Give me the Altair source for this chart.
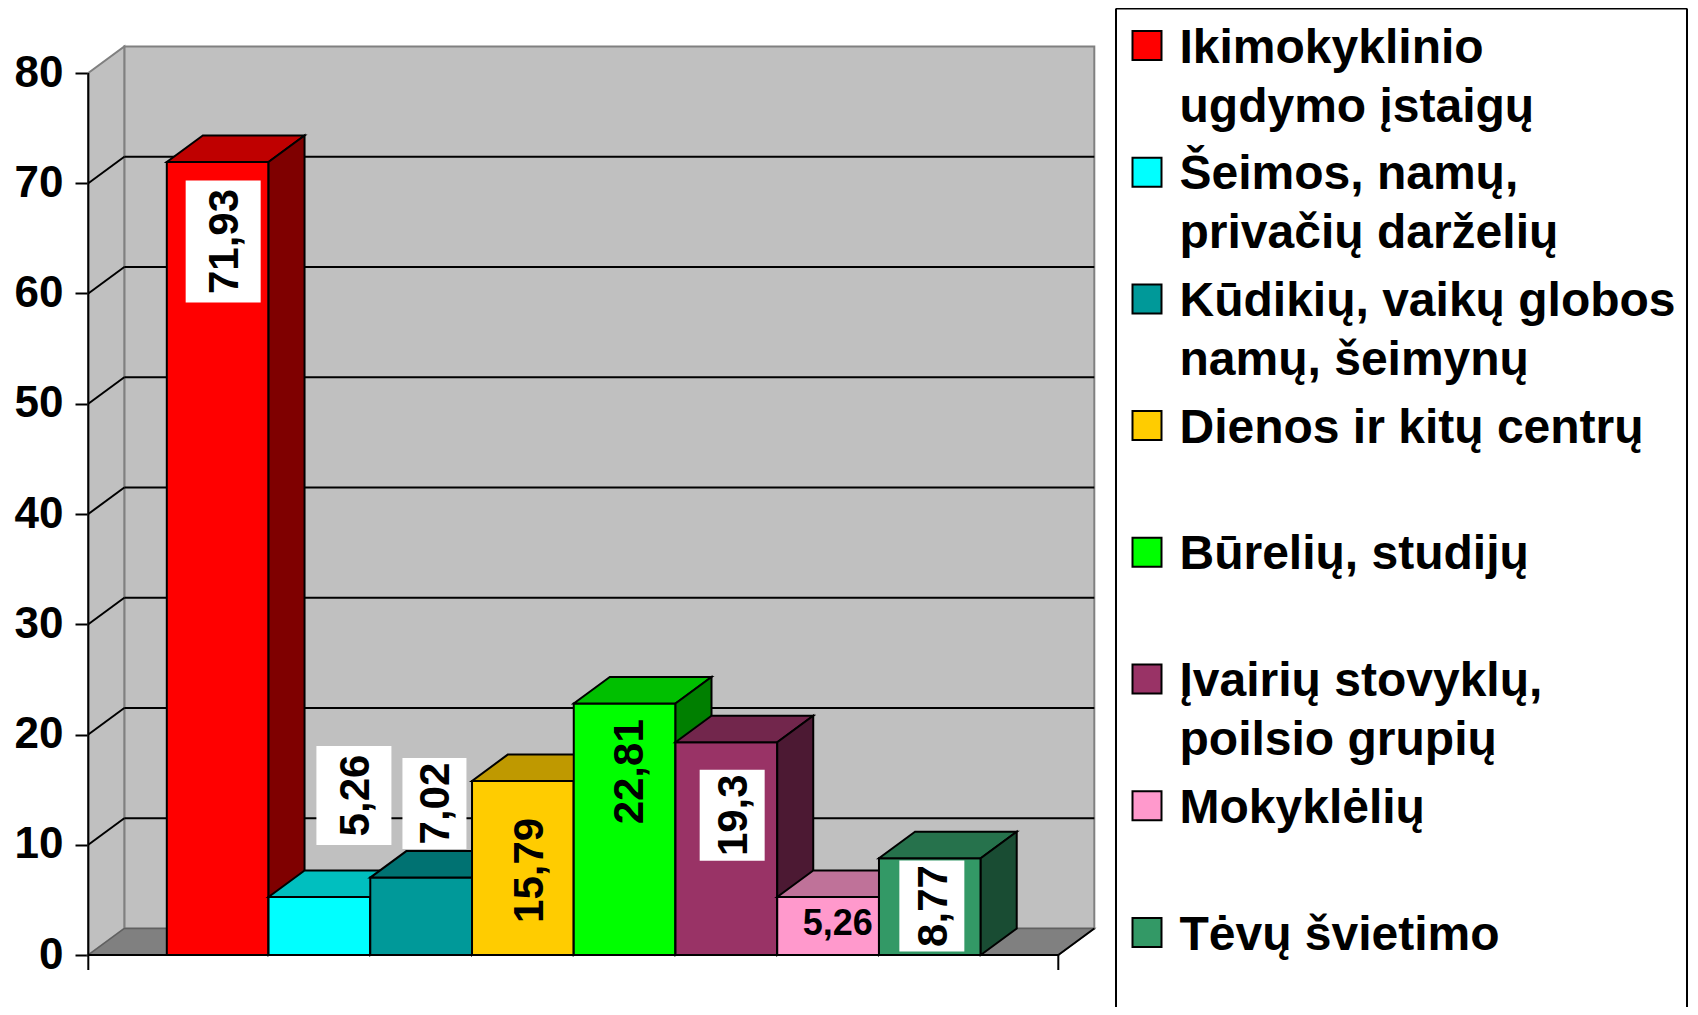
import altair as alt
import pandas as pd

# ---------------- data ----------------
categories = [
    "Ikimokyklinio ugdymo įstaigų",
    "Šeimos, namų, privačių darželių",
    "Kūdikių, vaikų globos namų, šeimynų",
    "Dienos ir kitų centrų",
    "Būrelių, studijų",
    "Įvairių stovyklų, poilsio grupių",
    "Mokyklėlių",
    "Tėvų švietimo",
]
legend_lines = [
    ["Ikimokyklinio", "ugdymo įstaigų"],
    ["Šeimos, namų,", "privačių darželių"],
    ["Kūdikių, vaikų globos", "namų, šeimynų"],
    ["Dienos ir kitų centrų"],
    ["Būrelių, studijų"],
    ["Įvairių stovyklų,", "poilsio grupių"],
    ["Mokyklėlių"],
    ["Tėvų švietimo"],
]
values = [71.93, 5.26, 7.02, 15.79, 22.81, 19.3, 5.26, 8.77]
value_labels = ["71,93", "5,26", "7,02", "15,79", "22,81", "19,3", "5,26", "8,77"]
y_ticks = [0, 10, 20, 30, 40, 50, 60, 70, 80]

# ---------------- styles ----------------
FONT = "Liberation Sans"
front_colors = ["#FF0000", "#00FFFF", "#009999", "#FFCC00",
                "#00FF00", "#993366", "#FF99CC", "#339966"]


def shade(hx, f):
    hx = hx.lstrip("#")
    r, g, b = (int(hx[k:k + 2], 16) for k in (0, 2, 4))
    return "#%02X%02X%02X" % (int(r * f), int(g * f), int(b * f))


top_colors = [shade(c, 0.75) for c in front_colors]
side_colors = [shade(c, 0.5) for c in front_colors]

# label placement (pixel offsets from front-top-centre of each bar), box size in px
label_style = [
    {"dx": 5.5, "dy": 79.5, "box": (75, 122), "rot": True, "size": 42},
    {"dx": 34.5, "dy": -101.5, "box": (75, 99), "rot": True, "size": 42},
    {"dx": 13.3, "dy": -74.0, "box": (64, 91), "rot": True, "size": 42},
    {"dx": 5.2, "dy": 89.5, "box": None, "rot": True, "size": 42},
    {"dx": 3.3, "dy": 68.3, "box": None, "rot": True, "size": 42},
    {"dx": 5.8, "dy": 73.0, "box": (65, 91), "rot": True, "size": 42},
    {"dx": 9.7, "dy": 25.5, "box": None, "rot": False, "size": 36},
    {"dx": 2.0, "dy": 47.7, "box": (65, 91), "rot": True, "size": 42},
]

# ---------------- layout (pixels on the page) ----------------
PX0 = 166.8        # page x of first bar's front-left edge
BAR_PX = 101.74    # bar width in px
ZERO_PY = 955.0    # page y of value 0
UNIT_PY = 11.025   # px per value unit
DEPTH_X, DEPTH_Y = 36.0, 26.5
PLOT_LEFT, PLOT_TOP, W, H = 88, 8, 1602, 999


def sx(px):
    return (px - PX0) / BAR_PX


def vy(py):
    return (ZERO_PY - py) / UNIT_PY


DX = DEPTH_X / BAR_PX
DY = DEPTH_Y / UNIT_PY
XL = sx(88.3)
XR = sx(1058.3)
XS = alt.Scale(domain=[sx(PLOT_LEFT), sx(PLOT_LEFT + W)], nice=False, zero=False)
YS = alt.Scale(domain=[vy(PLOT_TOP + H), vy(PLOT_TOP)], nice=False, zero=False)
YAX = alt.Axis(values=y_ticks, format="d", domain=False, grid=False, ticks=True,
               tickSize=13, tickWidth=2, tickColor="black", labelFont=FONT,
               labelFontSize=44, labelFontWeight="bold", labelColor="black",
               labelPadding=12, title=None, labelOverlap=False)


def enc(ch, x="x", y="y", x2=None, y2=None, **extra):
    e = dict(x=alt.X(f"{x}:Q", scale=XS, axis=None),
             y=alt.Y(f"{y}:Q", scale=YS, axis=YAX))
    if x2:
        e["x2"] = alt.X2(f"{x2}:Q")
    if y2:
        e["y2"] = alt.Y2(f"{y2}:Q")
    e.update(extra)
    return ch.encode(**e)


def rule(x, y, x2, y2, color="black", width=2):
    df = pd.DataFrame({"x": [x], "y": [y], "x2": [x2], "y2": [y2]})
    return enc(alt.Chart(df).mark_rule(color=color, strokeWidth=width), x2="x2", y2="y2")


layers = []

# back wall
bw = pd.DataFrame({"x": [XL + DX], "x2": [XR + DX], "y": [DY], "y2": [80 + DY]})
layers.append(enc(alt.Chart(bw).mark_rect(fill="#C0C0C0", stroke="#808080", strokeWidth=2),
                  x2="x2", y2="y2"))
# left wall
lw = pd.DataFrame({"x": [XL, XL + DX], "y": [0, DY], "y2": [80, 80 + DY]})
layers.append(enc(alt.Chart(lw).mark_area(orient="vertical", fill="#C0C0C0", opacity=1,
                                          stroke="#808080", strokeWidth=2), y2="y2"))
# floor
fl = pd.DataFrame({"y": [0, DY], "x": [XL, XL + DX], "x2": [XR, XR + DX]})
layers.append(enc(alt.Chart(fl).mark_area(orient="horizontal", fill="#808080", opacity=1,
                                          stroke="#606060", strokeWidth=1.5), x2="x2"))

# gridlines
for v in y_ticks[1:-1]:
    layers.append(rule(XL + DX, v + DY, XR + DX, v + DY))
    layers.append(rule(XL, v, XL + DX, v + DY))

# floor right edge, axes
layers.append(rule(XR, 0, XR + DX, DY))
layers.append(rule(XL, 0, XL, 80))
layers.append(rule(XL, 0, XR, 0))
layers.append(rule(XL, 0, XL, vy(970)))
layers.append(rule(XR, 0, XR, vy(970)))

# bars (drawn left to right: front, top, side)
for i, v in enumerate(values):
    fr = pd.DataFrame({"x": [i], "x2": [i + 1], "y": [0], "y2": [v]})
    layers.append(enc(alt.Chart(fr).mark_rect(fill=front_colors[i], stroke="black",
                                              strokeWidth=2), x2="x2", y2="y2"))
    tp = pd.DataFrame({"y": [v, v + DY], "x": [i, i + DX], "x2": [i + 1, i + 1 + DX]})
    layers.append(enc(alt.Chart(tp).mark_area(orient="horizontal", fill=top_colors[i],
                                              opacity=1, stroke="black", strokeWidth=2,
                                              strokeJoin="miter"), x2="x2"))
    sd = pd.DataFrame({"x": [i + 1, i + 1 + DX], "y": [0, DY], "y2": [v, v + DY]})
    layers.append(enc(alt.Chart(sd).mark_area(orient="vertical", fill=side_colors[i],
                                              opacity=1, stroke="black", strokeWidth=2,
                                              strokeJoin="miter"), y2="y2"))

# value labels
for i, (v, lab) in enumerate(zip(values, value_labels)):
    st = label_style[i]
    cx = i + 0.5 + st["dx"] / BAR_PX
    cy = v - st["dy"] / UNIT_PY
    if st["box"]:
        bwid, bhei = st["box"]
        bx = pd.DataFrame({"x": [cx - bwid / 2 / BAR_PX], "x2": [cx + bwid / 2 / BAR_PX],
                           "y": [cy - bhei / 2 / UNIT_PY], "y2": [cy + bhei / 2 / UNIT_PY]})
        layers.append(enc(alt.Chart(bx).mark_rect(fill="white"), x2="x2", y2="y2"))
    fs = st["size"]
    if st["rot"]:
        tx = pd.DataFrame({"x": [cx + 0.358 * fs / BAR_PX], "y": [cy], "t": [lab]})
        m = alt.Chart(tx).mark_text(angle=270, align="center", baseline="alphabetic",
                                    font=FONT, fontSize=fs, fontWeight="bold", color="black")
    else:
        tx = pd.DataFrame({"x": [cx], "y": [cy - 0.358 * fs / UNIT_PY], "t": [lab]})
        m = alt.Chart(tx).mark_text(align="center", baseline="alphabetic",
                                    font=FONT, fontSize=fs, fontWeight="bold", color="black")
    layers.append(enc(m, text="t:N"))

# legend box
LB_L, LB_R, LB_T = 1116, 1687, 8.5
layers.append(rule(sx(LB_L), vy(LB_T), sx(LB_R), vy(LB_T)))
layers.append(rule(sx(LB_L), vy(LB_T), sx(LB_L), vy(1020)))
layers.append(rule(sx(LB_R), vy(LB_T), sx(LB_R), vy(1020)))

# legend entries
ENTRY0, ENTRY_STEP, LINE_STEP = 45.5, 126.7, 59.0
LFS = 48
sw_rows, tx_rows = [], []
for i, lines in enumerate(legend_lines):
    cyp = ENTRY0 + i * ENTRY_STEP
    sw_rows.append({"x": sx(1147), "y": vy(cyp), "c": front_colors[i]})
    for j, line in enumerate(lines):
        tx_rows.append({"x": sx(1179.5), "y": vy(cyp + j * LINE_STEP + 0.358 * LFS), "t": line})
layers.append(enc(alt.Chart(pd.DataFrame(sw_rows)).mark_point(
    shape="square", filled=True, size=841, stroke="black", strokeWidth=2, opacity=1),
    fill=alt.Fill("c:N", scale=None)))
layers.append(enc(alt.Chart(pd.DataFrame(tx_rows)).mark_text(
    align="left", baseline="alphabetic", font=FONT, fontSize=LFS, fontWeight="bold",
    color="black"), text="t:N"))

chart = alt.layer(*layers).properties(
    width=W, height=H,
    background="white",
    padding={"left": PLOT_LEFT - 8, "top": PLOT_TOP - 8, "right": 0, "bottom": 0},
    autosize=alt.AutoSizeParams(type="none"),
).configure_view(stroke=None, strokeWidth=0)

chart.save("out.html", embed_options={"renderer": "svg", "actions": False})
